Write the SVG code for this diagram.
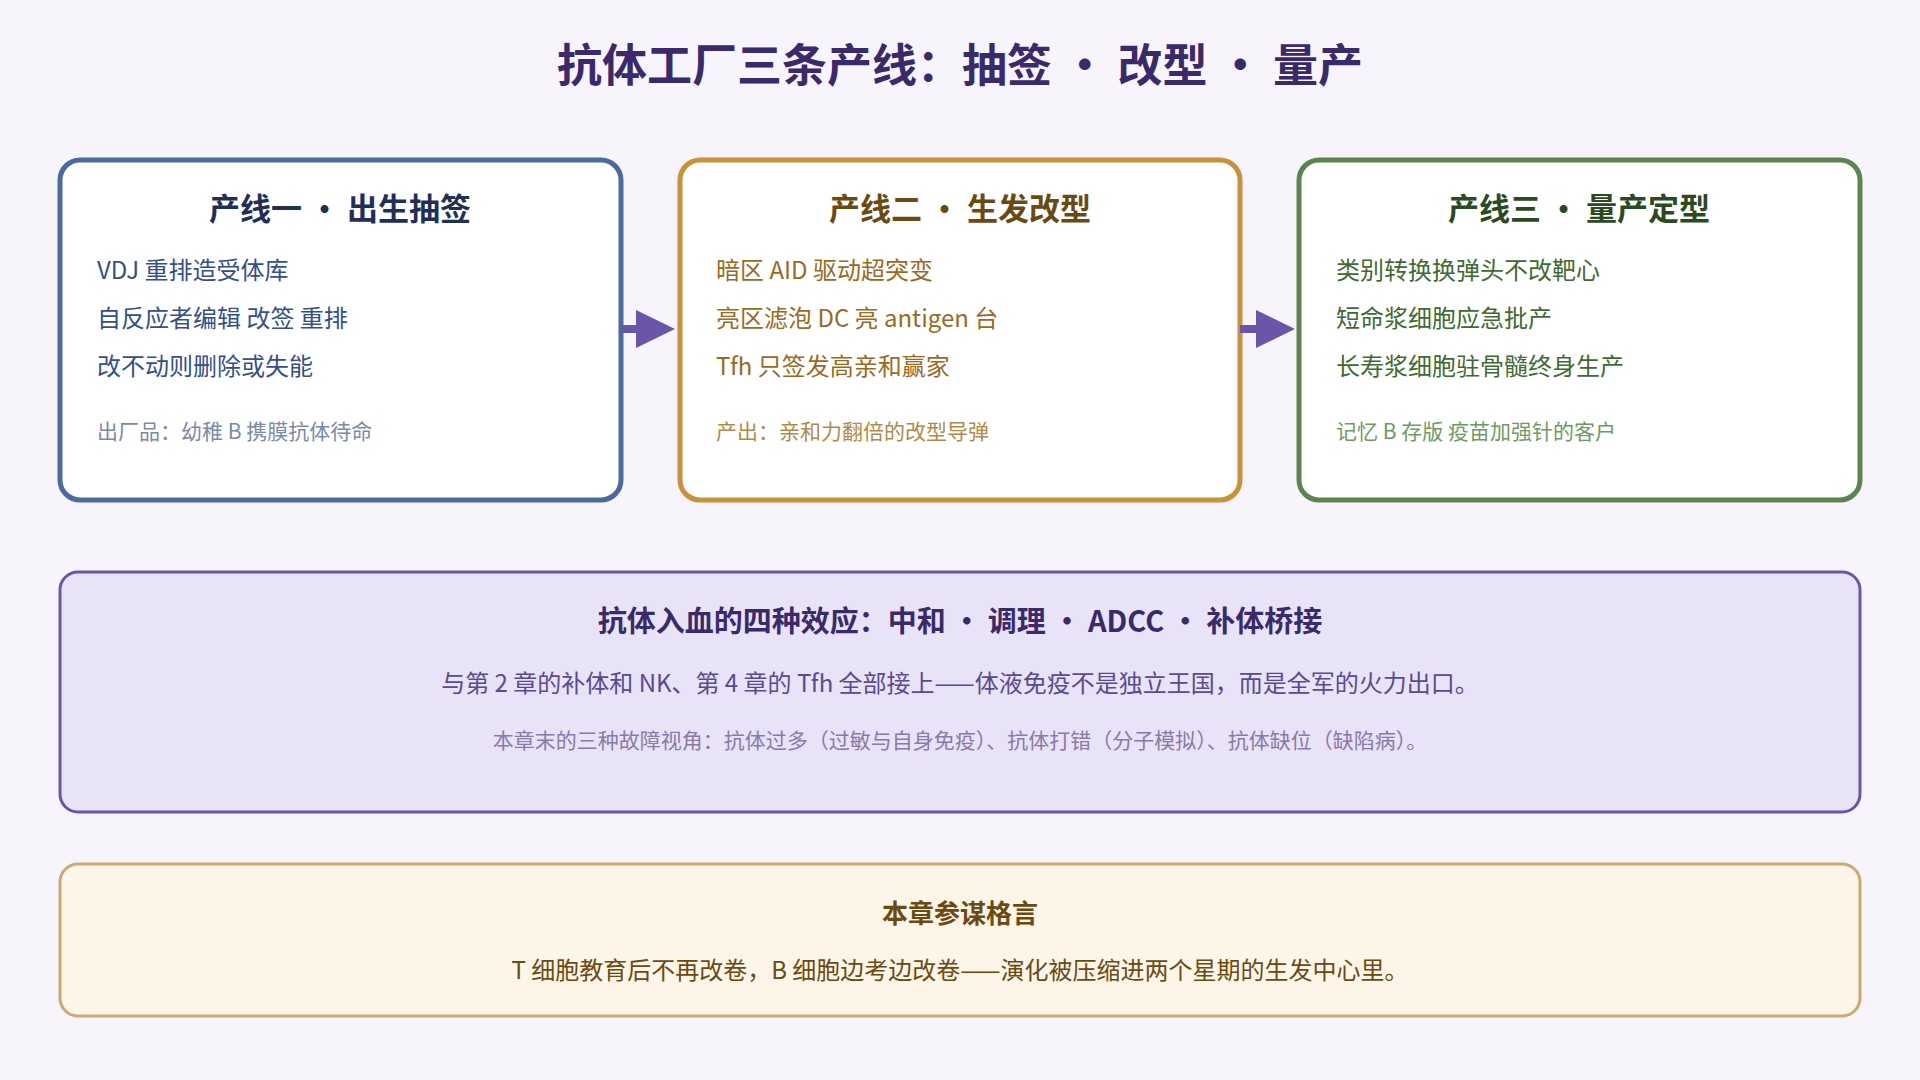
<svg xmlns="http://www.w3.org/2000/svg" width="1920" height="1080" viewBox="0 0 1920 1080">
<style>
text{font-family:"Noto Sans CJK SC","Noto Sans",sans-serif}
.h{font-size:31px;font-weight:bold;text-anchor:middle}
.i{font-size:24px}
.f{font-size:21px}
.box{fill:#fff;stroke-width:5}
</style>
<rect width="1920" height="1080" fill="#f7f5fb"/>
<text x="960" y="82" text-anchor="middle" font-size="45" font-weight="bold" fill="#3a2a6a">抗体工厂三条产线：抽签 • 改型 • 量产</text>
<g id="line1">
<rect class="box" x="60" y="160" width="561" height="340" rx="20" stroke="#4a6aa0"/>
<text class="h" x="340" y="220" fill="#1f2f55">产线一 • 出生抽签</text>
<text class="i" x="97" y="279" fill="#34508a">VDJ 重排造受体库</text>
<text class="i" x="97" y="327" fill="#34508a">自反应者编辑 改签 重排</text>
<text class="i" x="97" y="375" fill="#34508a">改不动则删除或失能</text>
<text class="f" x="97" y="439" fill="#7a8aa8">出厂品：幼稚 B 携膜抗体待命</text>
</g>
<g id="line2">
<rect class="box" x="680" y="160" width="560" height="340" rx="20" stroke="#c8913a"/>
<text class="h" x="960" y="220" fill="#6b4a12">产线二 • 生发改型</text>
<text class="i" x="716" y="279" fill="#9a6a1f">暗区 AID 驱动超突变</text>
<text class="i" x="716" y="327" fill="#9a6a1f">亮区滤泡 DC 亮 antigen 台</text>
<text class="i" x="716" y="375" fill="#9a6a1f">Tfh 只签发高亲和赢家</text>
<text class="f" x="716" y="439" fill="#b08a4a">产出：亲和力翻倍的改型导弹</text>
</g>
<g id="line3">
<rect class="box" x="1299" y="160" width="561" height="340" rx="20" stroke="#5a8550"/>
<text class="h" x="1579" y="220" fill="#2c4a22">产线三 • 量产定型</text>
<text class="i" x="1336" y="279" fill="#3f6a33">类别转换换弹头不改靶心</text>
<text class="i" x="1336" y="327" fill="#3f6a33">短命浆细胞应急批产</text>
<text class="i" x="1336" y="375" fill="#3f6a33">长寿浆细胞驻骨髓终身生产</text>
<text class="f" x="1336" y="439" fill="#6f9a65">记忆 B 存版 疫苗加强针的客户</text>
</g>
<g id="connectors" fill="#6b55a8" stroke="#6b55a8">
<line x1="621" y1="329" x2="640" y2="329" stroke-width="8"/>
<polygon points="636,310 675,329 636,348" stroke="none"/>
<line x1="1240" y1="329" x2="1260" y2="329" stroke-width="8"/>
<polygon points="1256,310 1295,329 1256,348" stroke="none"/>
</g>
<g id="effects">
<rect x="60" y="572" width="1800" height="240" rx="18" fill="#e8e3f7" stroke="#6b55a8" stroke-width="3"/>
<text x="960" y="632" text-anchor="middle" font-size="29" font-weight="bold" fill="#3a2a6a">抗体入血的四种效应：中和 • 调理 • ADCC • 补体桥接</text>
<text x="960" y="692" text-anchor="middle" font-size="24" fill="#5a4a90">与第 2 章的补体和 NK、第 4 章的 Tfh 全部接上——体液免疫不是独立王国，而是全军的火力出口。</text>
<text x="960" y="748" text-anchor="middle" font-size="21" fill="#8a7aaa">本章末的三种故障视角：抗体过多（过敏与自身免疫）、抗体打错（分子模拟）、抗体缺位（缺陷病）。</text>
</g>
<g id="motto">
<rect x="60" y="864" width="1800" height="152" rx="18" fill="#fdf5e8" stroke="#c9ab70" stroke-width="3"/>
<text x="960" y="923" text-anchor="middle" font-size="26" font-weight="bold" fill="#6b4a12">本章参谋格言</text>
<text x="960" y="979" text-anchor="middle" font-size="24" fill="#6b4a12">T 细胞教育后不再改卷，B 细胞边考边改卷——演化被压缩进两个星期的生发中心里。</text>
</g>
</svg>
